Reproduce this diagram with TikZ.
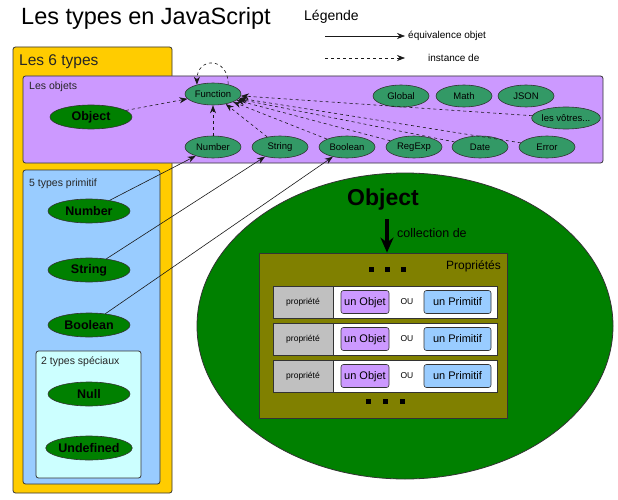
\documentclass[tikz,border=0pt]{standalone}
\usepackage{fontspec}
\setmainfont{Liberation Sans}
\usepackage{xcolor}
\usepackage{tikz}
\usetikzlibrary{arrows.meta,shapes.geometric,positioning}

\definecolor{sixyellow}{HTML}{FFCC00}
\definecolor{objpurple}{HTML}{CC99FF}
\definecolor{primblue}{HTML}{99CCFF}
\definecolor{speccyan}{HTML}{CCFFFF}
\definecolor{darkgreen}{HTML}{008000}
\definecolor{midgreen}{HTML}{339966}
\definecolor{olivebox}{HTML}{808000}
\definecolor{cellgray}{HTML}{C0C0C0}
\definecolor{edge}{HTML}{333333}

\begin{document}
\begin{tikzpicture}[
  x=1pt, y=-1pt,
  >=Stealth,
  % Panels (group boxes)
  panel/.style={
    rectangle, rounded corners=2.5pt, draw=edge,
    line width=0.8pt, inner sep=0pt
  },
  plabel/.style={anchor=west, inner sep=0pt, text=black!85,
    font=\fontsize{10.5}{12}\selectfont},
  % Type ellipses
  tbig/.style={
    ellipse, draw=edge, fill=darkgreen, inner sep=0pt,
    minimum width=82pt, minimum height=24pt, line width=0.6pt,
    font=\fontsize{12.5}{14}\selectfont\bfseries
  },
  tsmall/.style={
    ellipse, draw=edge, fill=midgreen, inner sep=0pt,
    minimum width=56pt, minimum height=22pt, line width=0.6pt,
    font=\fontsize{9.5}{11}\selectfont
  },
  % Property rows
  prow/.style={rectangle, draw=edge, fill=white, line width=0.8pt,
    minimum width=224pt, minimum height=32pt, inner sep=0pt},
  pcell/.style={rectangle, draw=edge, fill=cellgray, line width=0.8pt,
    minimum width=60pt, minimum height=32pt, inner sep=0pt,
    font=\fontsize{8.5}{10}\selectfont},
  pval/.style={rectangle, rounded corners=2.5pt, draw=edge, line width=0.6pt,
    minimum height=23pt, inner sep=0pt, text height=8pt, text depth=1pt,
    font=\fontsize{11}{13}\selectfont},
  por/.style={inner sep=0pt, text height=6pt, text depth=0pt,
    font=\fontsize{8.5}{10}\selectfont},
  pdot/.style={rectangle, fill=black, minimum size=5pt, inner sep=0pt},
  % Arrows
  equiv/.style={-{Stealth[length=8pt,width=6pt]}, draw=black!90, line width=0.6pt},
  inst/.style={-{Stealth[length=8pt,width=6pt]}, draw=black!90, line width=0.6pt,
    dash pattern=on 3pt off 3pt},
  bigarr/.style={-{Stealth[length=15pt,width=13pt]}, draw=black, line width=3.5pt},
]
\useasboundingbox (0,0) rectangle (618,500);

% -------------------------------------------------------
% TITLE and LEGEND
% -------------------------------------------------------
\node[anchor=west, inner sep=0pt, font=\fontsize{23.5}{26}\selectfont] (title) at (21,18) {Les types en JavaScript};
\node[anchor=west, inner sep=0pt, font=\fontsize{14}{16}\selectfont] (leg) at (304,17) {Légende};

\coordinate (lga) at (325,36);
\coordinate (lgb) at (405,36);
\coordinate (lgc) at (325,58);
\coordinate (lgd) at (405,58);
\draw[equiv] (lga) -- (lgb);
\draw[inst]  (lgc) -- (lgd);
\node[anchor=west, inner sep=0pt, font=\fontsize{10}{12}\selectfont] (lgeq) at (408,36) {équivalence objet};
\node[anchor=west, inner sep=0pt, font=\fontsize{10}{12}\selectfont] (lgin) at (428,58) {instance de};

% -------------------------------------------------------
% PANELS — 6 types, objects, primitives, specials
% -------------------------------------------------------
\node[panel, fill=sixyellow, minimum width=159pt, minimum height=446pt] (six) at (92.5,270) {};
\node[plabel, font=\fontsize{15.5}{18}\selectfont] (sixl) at (19,62) {Les 6 types};

\node[panel, fill=objpurple, minimum width=580pt, minimum height=87pt] (objs) at (313,119.5) {};
\node[plabel] (objsl) at (29,87) {Les objets};

\node[panel, fill=primblue, minimum width=137pt, minimum height=314pt] (prims) at (91.5,327) {};
\node[plabel] (primsl) at (29,184) {5 types primitif};

\node[panel, fill=speccyan, minimum width=105pt, minimum height=127pt] (specs) at (88.5,414.5) {};
\node[plabel] (specsl) at (41,362) {2 types spéciaux};

% -------------------------------------------------------
% OBJECTS — native constructors
% -------------------------------------------------------
\node[tbig]   (oobj)  at (91,117)   {Object};
\node[tsmall] (fn)    at (213,94)   {Function};
\node[tsmall] (glob)  at (401,96)   {Global};
\node[tsmall] (math)  at (464,96)   {Math};
\node[tsmall] (json)  at (526,96)   {JSON};
\node[tsmall, minimum width=65pt] (yours) at (566,118) {les vôtres...};
\node[tsmall] (onum)  at (213,147)  {Number};
\node[tsmall] (ostr)  at (280,147)  {String};
\node[tsmall] (obool) at (347,147)  {Boolean};
\node[tsmall] (oreg)  at (414,147)  {RegExp};
\node[tsmall] (odate) at (480,147)  {Date};
\node[tsmall] (oerr)  at (547,147)  {Error};

% instance-of edges towards Function
\draw[inst] (oobj)  -- (fn);
\draw[inst] (onum)  -- (fn);
\draw[inst] (ostr)  -- (fn);
\draw[inst] (obool) -- (fn);
\draw[inst] (oreg)  -- (fn);
\draw[inst] (odate) -- (fn);
\draw[inst] (oerr)  -- (fn);
\draw[inst] (yours) -- (fn);
\draw[inst] (fn.32) .. controls +(0,-28) and +(0,-28) .. (fn.150);

% -------------------------------------------------------
% PRIMITIVES and SPECIALS
% -------------------------------------------------------
\node[tbig] (pnum)  at (89,211) {Number};
\node[tbig] (pstr)  at (89,270) {String};
\node[tbig] (pbool) at (89,325) {Boolean};
\node[tbig] (pnull) at (89,394) {Null};
\node[tbig] (pund)  at (89,448) {Undefined};

% object equivalence edges
\draw[equiv] (pnum)  -- (onum);
\draw[equiv] (pstr)  -- (ostr);
\draw[equiv] (pbool) -- (obool);

% -------------------------------------------------------
% OBJECT — collection of properties
% -------------------------------------------------------
\node[ellipse, draw=edge, fill=darkgreen, line width=0.8pt,
      minimum width=416pt, minimum height=306pt] (objbig) at (405,326) {};
\node[inner sep=0pt, font=\fontsize{23}{26}\selectfont\bfseries] (objt) at (383,200) {Object};

\node[panel, rounded corners=0pt, fill=olivebox, minimum width=248pt, minimum height=165pt] (props) at (383,335.5) {};
\node[anchor=east, inner sep=0pt, font=\fontsize{12}{14}\selectfont] (propsl) at (501,266) {Propriétés};

\coordinate (coll) at (387,219);
\draw[bigarr] (coll) -- (props.north -| coll);
\node[anchor=west, inner sep=0pt, font=\fontsize{12.5}{14}\selectfont] (colll) at (397,233) {collection de};

\node[pdot] (dta) at (371,269) {};
\node[pdot] (dtb) at (387,269) {};
\node[pdot] (dtc) at (403,269) {};

% property rows
\node[prow] (rowa) at (385,302) {};
\node[pcell] (cella) at (303,302) {propriété};
\node[pval, fill=objpurple, minimum width=48pt] (vobja) at (365,302) {un Objet};
\node[por] (oua) at (407,301) {OU};
\node[pval, fill=primblue, minimum width=67pt] (vprima) at (457.5,302) {un Primitif};

\node[prow] (rowb) at (385,339) {};
\node[pcell] (cellb) at (303,339) {propriété};
\node[pval, fill=objpurple, minimum width=48pt] (vobjb) at (365,339) {un Objet};
\node[por] (oub) at (407,338) {OU};
\node[pval, fill=primblue, minimum width=67pt] (vprimb) at (457.5,339) {un Primitif};

\node[prow] (rowc) at (385,376) {};
\node[pcell] (cellc) at (303,376) {propriété};
\node[pval, fill=objpurple, minimum width=48pt] (vobjc) at (365,376) {un Objet};
\node[por] (ouc) at (407,375) {OU};
\node[pval, fill=primblue, minimum width=67pt] (vprimc) at (457.5,376) {un Primitif};

\node[pdot] (dtd) at (368,401) {};
\node[pdot] (dte) at (385,401) {};
\node[pdot] (dtf) at (402,401) {};

\end{tikzpicture}
\end{document}
